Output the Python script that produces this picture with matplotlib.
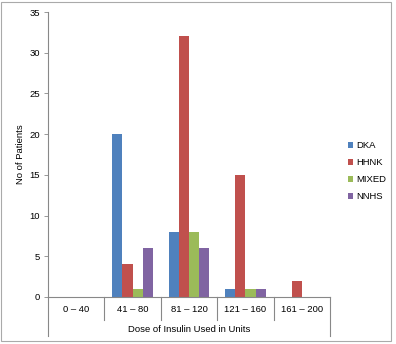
import matplotlib.pyplot as plt
import matplotlib.patches as mpatches
import numpy as np

plt.rcParams['font.family'] = ['Liberation Sans', 'DejaVu Sans']

categories = ['0 – 40', '41 – 80', '81 – 120', '121 – 160', '161 – 200']
dka = [0, 20, 8, 1, 0]
hhnk = [0, 4, 32, 15, 2]
mixed = [0, 1, 8, 1, 0]
nnhs = [0, 6, 6, 1, 0]

series = [('DKA', dka, '#4F81BD'), ('HHNK', hhnk, '#C0504D'),
          ('MIXED', mixed, '#9BBB59'), ('NNHS', nnhs, '#8064A2')]

fig = plt.figure(figsize=(3.96, 3.44), dpi=100)
ax = fig.add_axes([48/396, 1 - 297/344, (330 - 48)/396, (297 - 12)/344])

x = np.arange(len(categories))
w = 0.18
for i, (name, vals, col) in enumerate(series):
    ax.bar(x + (i - 1.5) * w, vals, w, color=col, label=name)

ax.set_xlim(-0.5, len(categories) - 0.5)
ax.set_ylim(0, 35)
ax.set_yticks(range(0, 36, 5))
ax.tick_params(axis='y', labelsize=6.8, length=3, width=0.6, color='#888888', pad=3)
ax.set_xticks([])
for s in ['top', 'right']:
    ax.spines[s].set_visible(False)
ax.spines['left'].set_color('#888888')
ax.spines['bottom'].set_color('#888888')
ax.spines['left'].set_linewidth(0.8)
ax.spines['bottom'].set_linewidth(0.8)

# category boxes under the axis
tr = ax.get_xaxis_transform()
for b in np.arange(-0.5, len(categories)):
    low = -0.137 if b in (-0.5, len(categories) - 0.5) else -0.081
    ax.plot([b, b], [0, low], transform=tr, clip_on=False, color='#888888', lw=0.8)
for xi, lab in zip(x, categories):
    ax.text(xi, -0.045, lab, transform=tr, ha='center', va='center', fontsize=6.8)
ax.text(2, -0.115, 'Dose of Insulin Used in Units', transform=tr,
        ha='center', va='center', fontsize=6.8)

ax.set_ylabel('No of Patients', fontsize=6.8, labelpad=3)

fig.legend(loc='center left', bbox_to_anchor=(339/396, 1 - 171/344), frameon=False,
           fontsize=6.8, handlelength=0.6, handleheight=0.6, handletextpad=0.3,
           labelspacing=0.85)

fig.patches.append(mpatches.Rectangle((1/396, 3/344), 390/396, 339/344, transform=fig.transFigure,
                                      fill=False, edgecolor='#aaaaaa', lw=0.8))

fig.savefig('out.png', dpi=100)
